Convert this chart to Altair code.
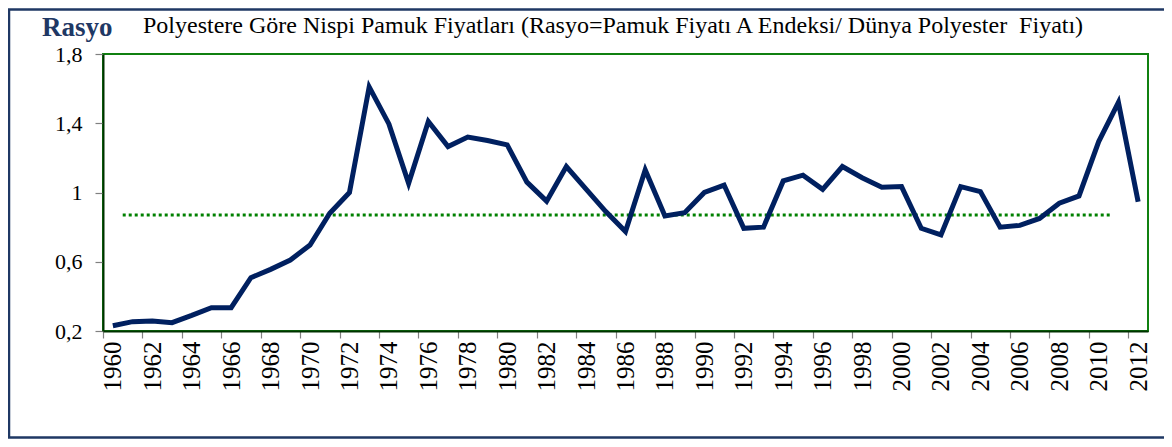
import altair as alt
import pandas as pd

years = list(range(1960, 2013))
ratio = [0.23, 0.254, 0.258, 0.248, 0.29, 0.335, 0.335, 0.508, 0.556, 0.61,
         0.697, 0.88, 1.0, 1.61, 1.396, 1.053, 1.41, 1.265, 1.32, 1.30,
         1.275, 1.06, 0.95, 1.15, 1.02, 0.89, 0.774, 1.13, 0.864, 0.883,
         1.0, 1.043, 0.793, 0.80, 1.067, 1.10, 1.018, 1.15, 1.085, 1.03,
         1.034, 0.793, 0.755, 1.034, 1.005, 0.80, 0.81, 0.85, 0.938, 0.98,
         1.294, 1.52, 0.947]

avg_years = [1960.5, 2010.7]
avg_value = 0.87

x_tick_labels = list(range(1960, 2013, 2))
y_tick_values = [0.2, 0.6, 1.0, 1.4, 1.8]

title_main = "Polyestere Göre Nispi Pamuk Fiyatları (Rasyo=Pamuk Fiyatı A Endeksi/ Dünya Polyester\u00a0 Fiyatı)"
title_unit = "Rasyo"

df = pd.DataFrame({"year": years, "ratio": ratio})
avg_df = pd.DataFrame({"year": [avg_years[0]], "year2": [avg_years[1]], "v": [avg_value]})

W, H = 1045, 277
step = W / 53.0
FONT = "Liberation Serif"

xscale = alt.Scale(domain=[1959.5, 2012.5], nice=False, zero=False)
yscale = alt.Scale(domain=[0.2, 1.8], nice=False, zero=False)

xaxis = alt.Axis(values=x_tick_labels, format="d", labelAngle=270, title=None,
                 tickOffset=-step / 2, labelOffset=step / 2, tickSize=7,
                 tickColor="#808080", tickWidth=1.2, domainColor="#003300",
                 domainWidth=2, labelFont=FONT, labelFontSize=25, labelColor="#000000",
                 labelPadding=3, grid=False, labelFlush=False, labelOverlap=False)
yaxis = alt.Axis(values=y_tick_values, format="~g", labelExpr="replace(datum.label, '.', ',')",
                 title=None, tickSize=8, tickColor="#808080", tickWidth=1.2,
                 domainColor="#003300", domainWidth=2, labelFont=FONT, labelFontSize=22,
                 labelColor="#000000", labelPadding=13, grid=False, labelFlush=False,
                 labelOverlap=False)

line = alt.Chart(df).mark_line(color="#002060", strokeWidth=5).encode(
    x=alt.X("year:Q", scale=xscale, axis=xaxis),
    y=alt.Y("ratio:Q", scale=yscale, axis=yaxis),
)

avg = alt.Chart(avg_df).mark_rule(color="#008000", strokeWidth=3, strokeDash=[3, 3]).encode(
    x=alt.X("year:Q", scale=xscale),
    x2="year2:Q",
    y=alt.Y("v:Q", scale=yscale),
)

one = alt.Data(values=[{"a": 1}])

frame = alt.Chart(one).mark_rect(fill=None, stroke="#1f3864", strokeWidth=2.5).encode(
    x=alt.value(-94), x2=alt.value(1120), y=alt.value(-44.5), y2=alt.value(383.5)
)

t_unit = alt.Chart(one).mark_text(font=FONT, fontSize=27, fontWeight="bold", color="#1f3864",
                                   align="left", baseline="alphabetic").encode(
    x=alt.value(-61), y=alt.value(-18), text=alt.value(title_unit)
)
t_main = alt.Chart(one).mark_text(font=FONT, fontSize=24, color="#000000",
                                   align="left", baseline="alphabetic").encode(
    x=alt.value(40), y=alt.value(-21), text=alt.value(title_main)
)

chart = alt.layer(frame, avg, line, t_unit, t_main).properties(
    width=W, height=H,
    padding={"left": 95, "top": 46, "right": 16, "bottom": 108},
    autosize=alt.AutoSizeParams(type="none"),
    background="white",
).configure_view(stroke="#108010", strokeWidth=2)

chart.save("out.html", embed_options={"renderer": "svg", "actions": False})
